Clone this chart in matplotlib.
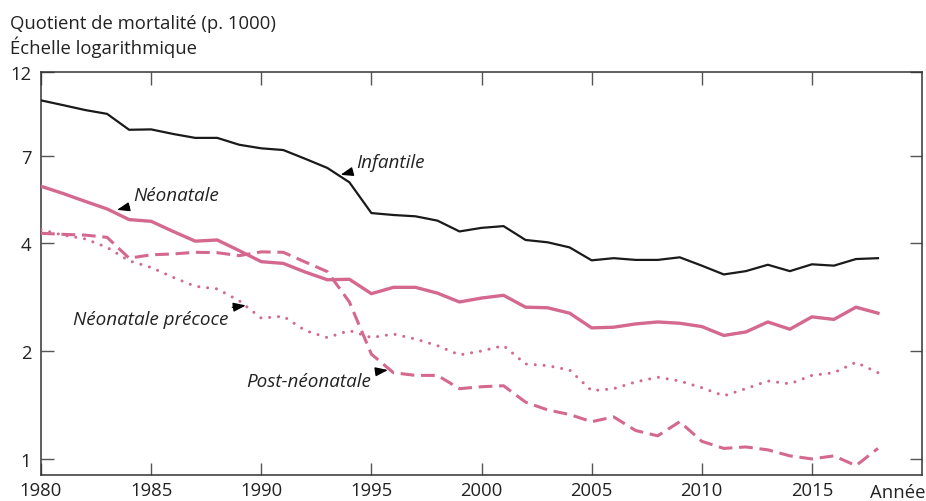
import matplotlib
matplotlib.use("Agg")
import matplotlib.pyplot as plt
from matplotlib.ticker import FixedLocator, NullLocator

plt.rcParams['font.family'] = ['Open Sans', 'DejaVu Sans']

years = list(range(1980, 2019))

infantile = [10.0, 9.7, 9.4, 9.17, 8.28, 8.3, 8.06, 7.86, 7.86, 7.52,
             7.35, 7.27, 6.87, 6.48, 5.91, 4.85, 4.79, 4.75, 4.62, 4.31,
             4.41, 4.46, 4.08, 4.02, 3.89, 3.58, 3.63, 3.59, 3.59, 3.65,
             3.46, 3.27, 3.34, 3.48, 3.34, 3.49, 3.46, 3.61, 3.63]

neonatale = [5.76, 5.50, 5.23, 4.98, 4.65, 4.60, 4.31, 4.05, 4.08, 3.81,
             3.55, 3.51, 3.32, 3.16, 3.17, 2.89, 3.01, 3.01, 2.90, 2.74,
             2.81, 2.86, 2.65, 2.64, 2.55, 2.32, 2.33, 2.38, 2.41, 2.39,
             2.34, 2.21, 2.26, 2.41, 2.30, 2.49, 2.45, 2.65, 2.55]

post_neonatale = [4.26, 4.23, 4.21, 4.15, 3.63, 3.71, 3.73, 3.77, 3.76, 3.69,
                  3.78, 3.77, 3.54, 3.33, 2.74, 1.96, 1.74, 1.71, 1.71, 1.57,
                  1.59, 1.60, 1.44, 1.37, 1.33, 1.27, 1.31, 1.20, 1.16, 1.27,
                  1.12, 1.07, 1.08, 1.06, 1.02, 1.00, 1.02, 0.958, 1.07]

neonatale_precoce = [4.36, 4.21, 4.11, 3.89, 3.57, 3.42, 3.21, 3.03, 2.98, 2.76,
                     2.47, 2.50, 2.28, 2.18, 2.28, 2.18, 2.23, 2.16, 2.07, 1.95,
                     2.00, 2.07, 1.84, 1.82, 1.77, 1.55, 1.57, 1.64, 1.69, 1.65,
                     1.58, 1.50, 1.57, 1.65, 1.62, 1.71, 1.74, 1.86, 1.74]

y_ticks = [1, 2, 4, 7, 12]
x_tick_labels = [1980, 1985, 1990, 1995, 2000, 2005, 2010, 2015]

PINK = '#d4688e'
INK = '#1a1a1a'
FS = 13.3

fig = plt.figure(figsize=(9.26, 5.02), dpi=100)
ax = fig.add_axes([0.0443, 0.0518, 0.9514, 0.8028])

ax.plot(years, infantile, color=INK, lw=1.6, zorder=5)
ax.plot(years, neonatale, color=PINK, lw=2.4, zorder=4)
ax.plot(years, post_neonatale, color=PINK, lw=2.2, dashes=(4.5, 2.2), zorder=3)
ax.plot(years, neonatale_precoce, color=PINK, lw=2.2, dashes=(0.01, 2.9),
        dash_capstyle='round', zorder=3)

ax.set_yscale('log')
ax.set_ylim(0.902, 12)
ax.set_xlim(1980, 2020)

ax.yaxis.set_major_locator(FixedLocator(y_ticks))
ax.yaxis.set_minor_locator(NullLocator())
ax.set_yticklabels([str(v) for v in y_ticks])
ax.xaxis.set_major_locator(FixedLocator(x_tick_labels))
ax.xaxis.set_minor_locator(NullLocator())
ax.set_xticklabels([str(v) for v in x_tick_labels])

ax.tick_params(axis='both', which='major', direction='in', length=9,
               width=1.0, color='#555555', labelsize=FS, labelcolor='#222222',
               top=True, right=True)
ax.tick_params(axis='x', pad=4)
ax.tick_params(axis='y', pad=7)
for side in ['left', 'right', 'top', 'bottom']:
    ax.spines[side].set_linewidth(1.1)
    ax.spines[side].set_color('#333333')

fig.text(0.0108, 0.952, "Quotient de mortalité (p. 1000)", fontsize=FS,
         color='#222222', va='center', ha='left')
fig.text(0.0108, 0.905, "Échelle logarithmique", fontsize=FS,
         color='#222222', va='center', ha='left')
fig.text(0.999, 0.018, "Année", fontsize=FS, color='#222222',
         va='center', ha='right')

arrow = dict(arrowstyle='-|>,head_length=0.55,head_width=0.2', color='black',
             lw=1.0, shrinkA=1, shrinkB=0)
label_style = dict(fontsize=13.6, style='italic', color='#222222')

ax.annotate("Infantile", xy=(1993.6, 6.2), xytext=(1994.3, 6.75),
            ha='left', va='center', arrowprops=arrow, **label_style)
ax.annotate("Néonatale", xy=(1983.45, 4.95), xytext=(1984.2, 5.45),
            ha='left', va='center', arrowprops=arrow, **label_style)
ax.annotate("Néonatale précoce", xy=(1989.3, 2.68), xytext=(1988.5, 2.46),
            ha='right', va='center', arrowprops=arrow, **label_style)
ax.annotate("Post-néonatale", xy=(1995.75, 1.77), xytext=(1995.0, 1.65),
            ha='right', va='center', arrowprops=arrow, **label_style)

fig.savefig("out.png", dpi=100)
